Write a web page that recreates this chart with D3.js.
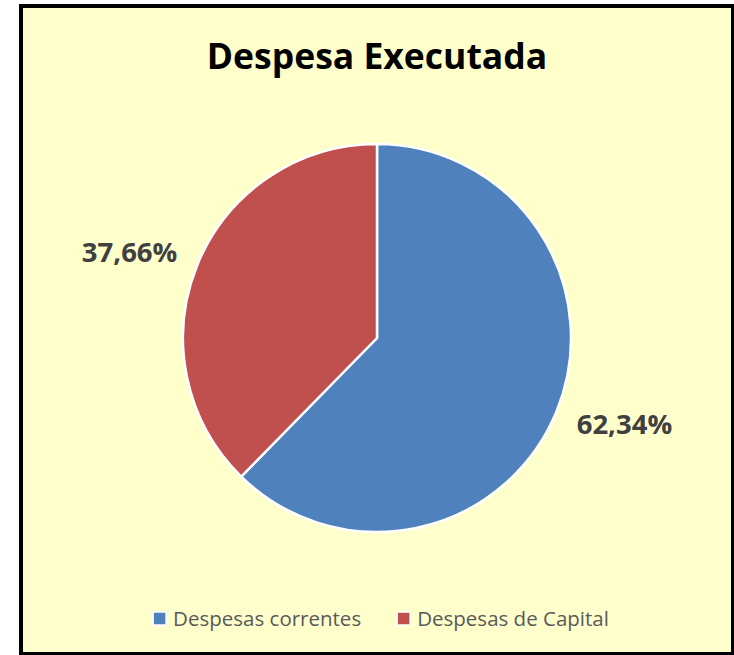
<!DOCTYPE html>
<html>
<head>
<meta charset="utf-8">
<script src="https://cdn.jsdelivr.net/npm/d3@7"></script>
<style>
  html, body { margin: 0; padding: 0; background: #fff; }
  svg { display: block; }
</style>
</head>
<body>
<svg id="svg" width="734" height="655"></svg>
<script>
"use strict";

const categories = ["Despesas correntes", "Despesas de Capital"];
const values = [62.34, 37.66];
const labels = ["62,34%", "37,66%"];
const colors = ["#4F81BD", "#C0504D"];

const cx = 377;
const cy = 338;
const radius = 194;
const labelRadius = 262;
const labelShift = -3 * Math.PI / 180;

var svg = d3.select("svg");

svg.append("rect")
    .attr("x", 21)
    .attr("y", 6)
    .attr("width", 712)
    .attr("height", 648)
    .attr("fill", "#FFFFCC")
    .attr("stroke", "#000")
    .attr("stroke-width", 4);

svg.append("text")
    .attr("x", cx)
    .attr("y", 69)
    .attr("text-anchor", "middle")
    .attr("font-family", "'Open Sans', sans-serif")
    .attr("font-weight", "bold")
    .attr("font-size", 35.5)
    .attr("fill", "#000")
    .text("Despesa Executada");

var pie = d3.pie().sort(null).value(d => d);
var arcs = pie(values);

var arc = d3.arc().innerRadius(0).outerRadius(radius);

function labelPos(d) {
    var a = (d.startAngle + d.endAngle) / 2 + labelShift;
    return [labelRadius * Math.sin(a), -labelRadius * Math.cos(a)];
}

var g = svg.append("g")
    .attr("transform", "translate(" + cx + "," + cy + ")");

g.selectAll(".slice")
    .data(arcs)
    .enter()
    .append("path")
        .attr("class", "slice")
        .attr("d", arc)
        .attr("fill", (d, i) => colors[i])
        .attr("stroke", "#fff")
        .attr("stroke-width", 2.5)
        .attr("stroke-linejoin", "round");

g.selectAll(".label")
    .data(arcs)
    .enter()
    .append("text")
        .attr("class", "label")
        .attr("transform", d => "translate(" + labelPos(d) + ")")
        .attr("text-anchor", "middle")
        .attr("dy", "0.36em")
        .attr("font-family", "'Open Sans', sans-serif")
        .attr("font-weight", "bold")
        .attr("font-size", 27.5)
        .attr("fill", "#404040")
        .text((d, i) => labels[i]);

// legend
var legend = svg.append("g");
var items = legend.selectAll(".item")
    .data(categories)
    .enter()
    .append("g")
        .attr("class", "item");

items.append("rect")
    .attr("y", -14)
    .attr("width", 13)
    .attr("height", 13)
    .attr("fill", (d, i) => colors[i])
    .attr("stroke", "#fff")
    .attr("stroke-width", 1.5);

items.append("text")
    .attr("x", 20)
    .attr("font-family", "'Open Sans', sans-serif")
    .attr("font-size", 20.5)
    .attr("fill", "#595959")
    .text(d => d);

var gap = 36;
var x = 0;
items.each(function() {
    var w = this.getBBox().width;
    d3.select(this).attr("transform", "translate(" + x + ",0)");
    x += w + gap;
});
var total = x - gap;
legend.attr("transform", "translate(" + (381 - total / 2) + ",626)");
</script>
</body>
</html>
